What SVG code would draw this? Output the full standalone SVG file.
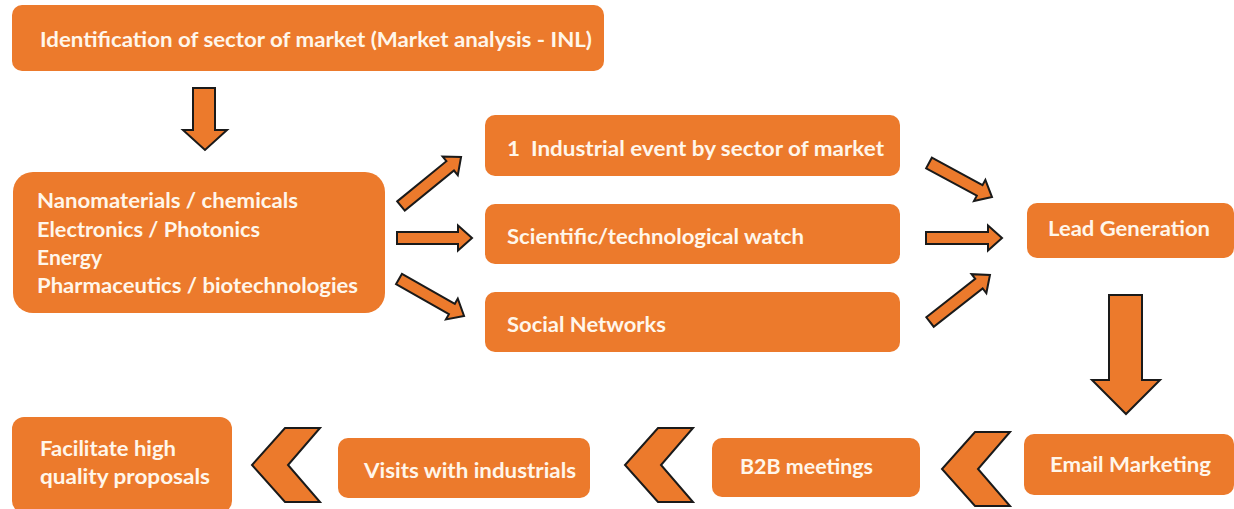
<svg xmlns="http://www.w3.org/2000/svg" xmlns:xlink="http://www.w3.org/1999/xlink" width="1234" height="509" viewBox="0 0 1234 509">
<style>
.box{fill:#EC7A2C;}
.lbl{font-family:Lato,"Liberation Sans",sans-serif;font-weight:bold;font-size:21px;fill:#FFF6EA;}
.arr{fill:#EC7A2C;stroke:#1a1a1a;stroke-width:2;stroke-linejoin:miter;}
</style>
<defs>
<polygon id="chev" points="33,-37 68,-37 36,0 68,37 33,37 0,0"/>
</defs>
<rect width="1234" height="509" fill="#ffffff"/>

<g id="node-identification">
<rect class="box" x="12" y="5" width="592" height="66" rx="10"/>
<text class="lbl" x="40" y="47" textLength="552" lengthAdjust="spacingAndGlyphs">Identification of sector of market (Market analysis - INL)</text>
</g>

<g id="node-sectors">
<rect class="box" x="13" y="172" width="372" height="141" rx="20"/>
<text class="lbl" x="37" y="208" textLength="261" lengthAdjust="spacingAndGlyphs">Nanomaterials / chemicals</text>
<text class="lbl" x="37" y="237" textLength="223" lengthAdjust="spacingAndGlyphs">Electronics / Photonics</text>
<text class="lbl" x="37" y="265" textLength="65" lengthAdjust="spacingAndGlyphs">Energy</text>
<text class="lbl" x="37" y="293" textLength="321" lengthAdjust="spacingAndGlyphs">Pharmaceutics / biotechnologies</text>
</g>

<g id="node-event">
<rect class="box" x="485" y="115" width="415" height="61" rx="10"/>
<text class="lbl" x="507" y="156" textLength="377" lengthAdjust="spacingAndGlyphs">1&#160; Industrial event by sector of market</text>
</g>

<g id="node-watch">
<rect class="box" x="485" y="204" width="415" height="60" rx="10"/>
<text class="lbl" x="507" y="244" textLength="297" lengthAdjust="spacingAndGlyphs">Scientific/technological watch</text>
</g>

<g id="node-social">
<rect class="box" x="485" y="292" width="415" height="60" rx="10"/>
<text class="lbl" x="507" y="332" textLength="159" lengthAdjust="spacingAndGlyphs">Social Networks</text>
</g>

<g id="node-lead">
<rect class="box" x="1027" y="203" width="207" height="55" rx="10"/>
<text class="lbl" x="1048" y="236" textLength="162" lengthAdjust="spacingAndGlyphs">Lead Generation</text>
</g>

<g id="node-email">
<rect class="box" x="1024" y="434" width="210" height="61" rx="10"/>
<text class="lbl" x="1050" y="472" textLength="161" lengthAdjust="spacingAndGlyphs">Email Marketing</text>
</g>

<g id="node-b2b">
<rect class="box" x="712" y="438" width="208" height="59" rx="10"/>
<text class="lbl" x="740" y="474" textLength="133" lengthAdjust="spacingAndGlyphs">B2B meetings</text>
</g>

<g id="node-visits">
<rect class="box" x="338" y="438" width="252" height="60" rx="10"/>
<text class="lbl" x="364" y="478" textLength="212" lengthAdjust="spacingAndGlyphs">Visits with industrials</text>
</g>

<g id="node-facilitate">
<rect class="box" x="12" y="417" width="220" height="96" rx="12"/>
<text class="lbl" x="40" y="456" textLength="136" lengthAdjust="spacingAndGlyphs">Facilitate high</text>
<text class="lbl" x="40" y="484" textLength="170" lengthAdjust="spacingAndGlyphs">quality proposals</text>
</g>

<g id="connectors">
<polygon class="arr" points="193,88 215,88 215,130 227,130 205,150 183,130 193,130"/>
<polygon class="arr" transform="translate(401,206) rotate(-39.2)" points="0,-6 63.5,-6 63.5,-12 77.5,0 63.5,12 63.5,6 0,6"/>
<polygon class="arr" transform="translate(397,238)" points="0,-6 61,-6 61,-12.5 75,0 61,12.5 61,6 0,6"/>
<polygon class="arr" transform="translate(399,279) rotate(29.6)" points="0,-6 60.8,-6 60.8,-12 74.8,0 60.8,12 60.8,6 0,6"/>
<polygon class="arr" transform="translate(929,163) rotate(28.4)" points="0,-6 57.6,-6 57.6,-12 71.6,0 57.6,12 57.6,6 0,6"/>
<polygon class="arr" transform="translate(926,238)" points="0,-6 62,-6 62,-12.5 76,0 62,12.5 62,6 0,6"/>
<polygon class="arr" transform="translate(930,322) rotate(-38.1)" points="0,-6 62.2,-6 62.2,-12 76.2,0 62.2,12 62.2,6 0,6"/>
<polygon class="arr" points="1109,295 1142,295 1142,380 1160,380 1126,414 1092,380 1109,380"/>
<use xlink:href="#chev" class="arr" transform="translate(942,469)"/>
<use xlink:href="#chev" class="arr" transform="translate(625,465)"/>
<use xlink:href="#chev" class="arr" transform="translate(252,465)"/>
</g>
</svg>
